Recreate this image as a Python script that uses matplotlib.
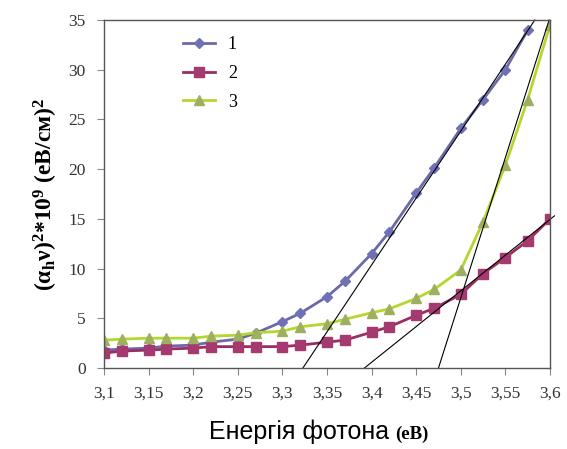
import matplotlib
matplotlib.use('Agg')
import matplotlib.pyplot as plt
import numpy as np

# photon energy, eV
energy = [3.10, 3.12, 3.15, 3.17, 3.20, 3.22, 3.25, 3.27, 3.30, 3.32, 3.35,
          3.37, 3.40, 3.42, 3.45, 3.47, 3.50, 3.525, 3.55, 3.575, 3.60]

# (alpha h nu)^2 * 1e9
s1 = [1.8, 1.9, 2.0, 2.2, 2.3, 2.6, 2.9, 3.5, 4.66, 5.5, 7.17,
      8.7, 11.5, 13.7, 17.6, 20.1, 24.1, 27.0, 30.0, 34.0]
s2 = [1.5, 1.7, 1.8, 1.9, 2.0, 2.15, 2.15, 2.15, 2.15, 2.3, 2.6,
      2.8, 3.6, 4.15, 5.3, 6.0, 7.4, 9.5, 11.1, 12.8, 15.0]
s3 = [2.8, 2.9, 3.0, 3.0, 3.0, 3.2, 3.3, 3.55, 3.7, 4.15, 4.45,
      4.9, 5.55, 5.95, 7.0, 7.9, 9.85, 14.7, 20.4, 27.0, 34.5]

# tangent (extrapolation) lines: x-end points, y-end points
tan1_x, tan1_y = [3.323, 3.583], [0, 35]
tan2_x, tan2_y = [3.392, 3.605], [0, 15.3]
tan3_x, tan3_y = [3.475, 3.599], [0, 35]

xticks = [3.1, 3.15, 3.2, 3.25, 3.3, 3.35, 3.4, 3.45, 3.5, 3.55, 3.6]
xtick_labels = ['3,1', '3,15', '3,2', '3,25', '3,3', '3,35', '3,4', '3,45', '3,5', '3,55', '3,6']
yticks = [0, 5, 10, 15, 20, 25, 30, 35]

plt.rcParams['mathtext.fontset'] = 'custom'
plt.rcParams['mathtext.rm'] = 'Liberation Serif:bold'
plt.rcParams['mathtext.it'] = 'Liberation Serif:bold'

fig = plt.figure(figsize=(5.67, 4.49), dpi=100)
ax = fig.add_axes([0.1834, 0.1804, 0.7866, 0.7751])

ax.plot(energy[:len(s1)], s1, color='#6a6aa8', lw=2, marker='D', ms=5,
        mfc='#6f70b5', mec='#6f70b5', label='1')
ax.plot(energy, s2, color='#9a2e62', lw=2, marker='s', ms=6.5,
        mfc='#a53a70', mec='#a53a70', label='2')
ax.plot(energy, s3, color='#b5d62c', lw=2, marker='^', ms=7,
        mfc='#9db060', mec='#9db060', label='3')

for tx, ty in [(tan1_x, tan1_y), (tan2_x, tan2_y), (tan3_x, tan3_y)]:
    ax.plot(tx, ty, color='black', lw=0.8, clip_on=False)

ax.set_xlim(3.1, 3.6)
ax.set_ylim(0, 35)
ax.set_xticks(xticks)
ax.set_xticklabels(xtick_labels)
ax.set_yticks(yticks)
ax.tick_params(direction='out', length=5, color='#888888', labelsize=12.5, pad=8)
for lab in ax.get_xticklabels() + ax.get_yticklabels():
    lab.set_family('Liberation Serif')
    lab.set_color('#333333')
for sp in ax.spines.values():
    sp.set_color('#555555')
    sp.set_linewidth(1)

leg = ax.legend(loc='upper left', bbox_to_anchor=(0.14, 1.0), frameon=False,
                prop={'family': 'Liberation Serif', 'size': 13},
                handlelength=1.8, labelspacing=0.65, handletextpad=0.7)

ax.set_ylabel(r'$(\alpha_{h}\nu)^2$*10$^9$ (eB/см)$^2$', family='Liberation Serif',
              fontweight='bold', fontsize=17, labelpad=6)

fig.text(0.368, 0.022, 'Енергія фотона', family='Liberation Sans', fontsize=18,
         ha='left', va='baseline')
fig.text(0.697, 0.022, '(eB)', family='Liberation Serif', fontweight='bold',
         fontsize=13.5, ha='left', va='baseline')

fig.savefig('out.png', dpi=100)
